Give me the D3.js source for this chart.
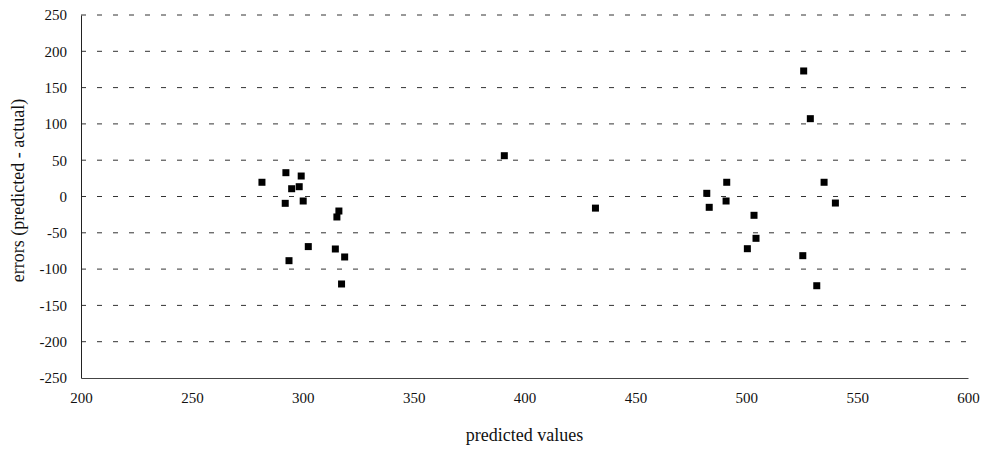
<!DOCTYPE html>
<meta charset="utf-8">
<style>
    body { margin: 0; background: #fff; }
    .tick text { font-family: "Liberation Serif", serif; font-size: 15px; fill: #111; }
    .axis-title { font-family: "Liberation Serif", serif; font-size: 18px; fill: #111; }
</style>
<div id="my_dataviz"></div>
<script src="https://d3js.org/d3.v7.min.js"></script>
<script>

    // values
    var predicted = [281.6, 292.4, 299.3, 295.0, 298.4, 292.1, 300.2, 316.3, 315.4, 302.5,
        314.7, 318.9, 293.8, 317.5, 390.9, 432.0, 482.2, 483.3, 491.2, 490.9,
        503.5, 504.4, 500.5, 525.5, 531.8, 535.1, 540.2, 525.9, 528.9];
    var errors = [19.6, 32.8, 28.2, 10.7, 13.5, -9.4, -6.2, -20.0, -28.2, -69.0,
        -72.3, -83.3, -88.4, -120.5, 56.2, -16.0, 4.4, -14.9, 19.6, -6.2,
        -25.9, -57.6, -71.9, -81.5, -122.9, 19.6, -9.0, 172.9, 107.2];
    var xTicks = [200, 250, 300, 350, 400, 450, 500, 550, 600];
    var yTicks = [-250, -200, -150, -100, -50, 0, 50, 100, 150, 200, 250];

    // plot area
    var margin = { top: 15, right: 13, bottom: 72, left: 81 },
        width = 981 - margin.left - margin.right,
        height = 450 - margin.top - margin.bottom;

    var svg = d3.select("#my_dataviz")
        .append("svg")
        .attr("width", 981)
        .attr("height", 450)
        .append("g")
        .attr("transform", "translate(" + margin.left + "," + margin.top + ")");

    var x = d3.scaleLinear().domain([200, 600]).range([0, width]);
    var y = d3.scaleLinear().domain([-250, 250]).range([height, 0]);

    // plain hyphen for negatives, like the original
    var fmt = function (d) { return String(d); };

    // dashed gridlines
    svg.selectAll("line.grid")
        .data(yTicks.filter(function (d) { return d > -250; }))
        .enter()
        .append("line")
        .attr("class", "grid")
        .attr("x1", 0)
        .attr("x2", width)
        .attr("y1", function (d) { return y(d); })
        .attr("y2", function (d) { return y(d); })
        .attr("stroke", "#333")
        .attr("stroke-width", 1)
        .attr("stroke-dasharray", "5,11");

    // Y axis
    svg.append("g")
        .call(d3.axisLeft(y).tickValues(yTicks).tickFormat(fmt).tickSize(0).tickPadding(14))
        .call(function (g) { g.select(".domain").attr("stroke", "#222"); });

    // X axis
    svg.append("g")
        .attr("transform", "translate(0," + height + ")")
        .call(d3.axisBottom(x).tickValues(xTicks).tickFormat(fmt).tickSize(0).tickPadding(14))
        .call(function (g) { g.select(".domain").attr("stroke", "#444"); });

    // points
    svg.selectAll("rect.pt")
        .data(predicted)
        .enter()
        .append("rect")
        .attr("class", "pt")
        .attr("x", function (d) { return x(d) - 3.5; })
        .attr("y", function (d, i) { return y(errors[i]) - 3.5; })
        .attr("width", 7)
        .attr("height", 7)
        .attr("fill", "#000");

    // x axis label
    svg.append("text")
        .attr("class", "axis-title")
        .attr("x", width / 2)
        .attr("y", height + 63)
        .style("text-anchor", "middle")
        .text("predicted values");

    // y axis label
    svg.append("text")
        .attr("class", "axis-title")
        .attr("transform", "rotate(-90)")
        .attr("x", -(y(0) - 6))
        .attr("y", -57)
        .style("text-anchor", "middle")
        .text("errors (predicted - actual)");

</script>
